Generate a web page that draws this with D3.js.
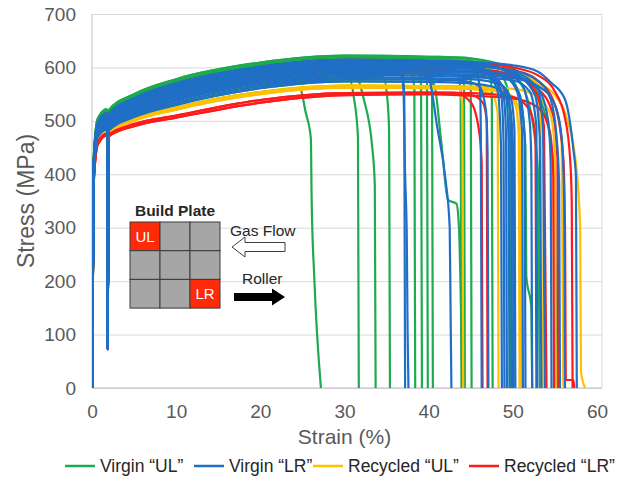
<!DOCTYPE html>
<html>
<head>
<meta charset="utf-8">
<script src="https://cdn.jsdelivr.net/npm/d3@7"></script>
<style>
  body { margin: 0; background: #fff; }
  svg { display: block; font-family: "Liberation Sans", Arial, sans-serif; }
  .tick text { fill: #595959; font-size: 19px; }
  .grid line { stroke: #d9d9d9; }
  .curve { fill: none; stroke-width: 2.2; stroke-linejoin: round; }
</style>
</head>
<body>
<div id="graph-container"></div>
<script>
// axis ticks
const xTicks = [0, 10, 20, 30, 40, 50, 60];
const yTicks = [0, 100, 200, 300, 400, 500, 600, 700];

// series (legend order)
const seriesNames = ['Virgin \u201cUL\u201d', 'Virgin \u201cLR\u201d', 'Recycled \u201cUL\u201d', 'Recycled \u201cLR\u201d'];
const seriesColors = ['#1daa50', '#1f6fc6', '#ffc000', '#ff1a1a'];

// strain (%) at which each specimen's stress is read before failure starts
const strainGrid = [0, 0.2, 0.7, 1.8, 1.85, 2.0, 5, 10, 20, 30, 40];

// each specimen: s = stress (MPa) on strainGrid, t = [strain, stress] points through failure
const virginUL = [
  { s: [0, 392, 468, 482, 75, 480, 503, 525, 554], t: [[24.7, 560], [25.4, 515], [26.0, 468], [26.1, 350], [26.4, 210], [27.2, 0]] },
  { s: [0, 396, 472, 486, 75, 484, 510, 534, 565, 578], t: [[30.6, 579], [31.1, 545], [31.6, 470], [31.7, 0]] },
  { s: [0, 400, 476, 490, 74, 488, 516, 541, 573, 586], t: [[31.2, 587], [32.3, 540], [33.3, 450], [33.6, 380], [33.7, 0]] },
  { s: [0, 398, 474, 488, 77, 486, 513, 538, 569, 582], t: [[34.6, 583], [35.1, 540], [35.3, 480], [35.4, 0]] },
  { s: [0, 402, 478, 493, 76, 491, 520, 545, 577, 590], t: [[37.9, 590], [38.3, 560], [38.4, 0]] },
  { s: [0, 408, 484, 499, 77, 497, 527, 553, 585, 598], t: [[38.8, 597], [39.1, 565], [39.2, 0]] },
  { s: [0, 412, 490, 505, 76, 503, 533, 561, 592, 605], t: [[39.5, 604], [39.8, 570], [39.9, 0]] },
  { s: [0, 425, 500, 517, 76, 515, 545, 572, 603, 616, 614], t: [[40.2, 613], [40.4, 575], [40.5, 0]] },
  { s: [0, 394, 470, 484, 76, 482, 507, 530, 561, 574, 573], t: [[40.6, 570], [41.5, 460], [42.3, 352], [43.3, 345], [43.6, 300], [44.0, 0]] },
  { s: [0, 405, 481, 496, 75, 494, 523, 549, 581, 594, 592], t: [[43.4, 590], [43.8, 555], [43.9, 0]] },
  { s: [0, 430, 505, 522, 78, 520, 550, 578, 609, 622, 620], t: [[44.6, 618], [45.0, 575], [45.1, 0]] },
  { s: [0, 425, 500, 517, 76, 515, 545, 572, 603, 616, 614], t: [[45, 612], [47.0, 600], [47.5, 560], [47.6, 0]] },
  { s: [0, 410, 487, 502, 75, 500, 530, 557, 589, 602, 600], t: [[45, 598], [48, 590], [50.0, 575], [51.0, 530], [51.5, 450], [51.6, 210], [52.2, 150], [52.3, 0]] },
  { s: [0, 430, 505, 522, 78, 520, 550, 578, 609, 622, 620], t: [[45, 617], [48, 608], [50, 597], [52, 575], [53.5, 530], [54.5, 460], [55.0, 380], [55.2, 0]] },
  { s: [0, 428, 503, 520, 77, 518, 548, 575, 606, 619, 617], t: [[45, 616], [48, 602], [50, 586], [51.5, 552], [52.5, 482], [53.0, 400], [53.2, 0]] },
  { s: [0, 425, 500, 517, 76, 515, 545, 572, 603, 616, 614], t: [[45, 611], [48, 596], [49.3, 565], [49.6, 520], [49.7, 0]] },
  { s: [0, 415, 492, 508, 74, 506, 536, 564, 595, 608, 606], t: [[43.8, 600], [44.2, 565], [44.3, 0]] }
];

const virginLR = [
  { s: [0, 400, 476, 490, 74, 488, 516, 541, 573, 586], t: [[36.7, 586], [37.0, 560], [37.2, 400], [37.4, 280], [37.5, 100], [37.6, 0]] },
  { s: [0, 410, 487, 502, 75, 500, 530, 557, 589, 602], t: [[36.8, 601], [37.1, 545], [37.2, 0]] },
  { s: [0, 405, 481, 496, 75, 494, 523, 549, 581, 594], t: [[39.5, 594], [40.2, 570], [41.0, 490], [42.0, 390], [42.5, 300], [42.6, 150], [42.7, 0]] },
  { s: [0, 415, 492, 508, 74, 506, 536, 564, 595, 608, 606], t: [[44, 604], [45.5, 596], [46.1, 560], [46.2, 470], [46.3, 0]] },
  { s: [0, 420, 497, 514, 75, 512, 542, 570, 601, 614, 612], t: [[44, 610], [46.5, 598], [48.2, 555], [48.6, 450], [48.7, 0]] },
  { s: [0, 418, 495, 511, 77, 509, 539, 567, 598, 611, 609], t: [[44, 607], [47, 592], [48.6, 550], [48.9, 460], [49.0, 0]] },
  { s: [0, 412, 490, 505, 76, 503, 533, 561, 592, 605, 603], t: [[44, 601], [47, 590], [48.9, 545], [49.2, 470], [49.3, 0]] },
  { s: [0, 408, 484, 499, 77, 497, 527, 553, 585, 598, 596], t: [[45, 592], [48, 580], [49.2, 545], [49.5, 460], [49.6, 0]] },
  { s: [0, 402, 478, 493, 76, 491, 520, 545, 577, 590, 588], t: [[45, 585], [48, 575], [49.5, 545], [49.8, 470], [49.9, 0]] },
  { s: [0, 398, 474, 488, 77, 486, 513, 538, 569, 582, 580], t: [[45, 578], [48.5, 568], [49.8, 540], [50.2, 480], [50.3, 0]] },
  { s: [0, 394, 470, 484, 76, 482, 507, 530, 561, 574, 573], t: [[45, 570], [48, 562], [49.6, 530], [50.0, 460], [50.1, 0]] },
  { s: [0, 420, 497, 514, 75, 512, 542, 570, 601, 614, 612], t: [[45, 610], [49, 594], [51.2, 565], [52.0, 500], [52.2, 420], [52.3, 0]] },
  { s: [0, 418, 495, 511, 77, 509, 539, 567, 598, 611, 609], t: [[45, 607], [50, 590], [52.6, 550], [53.2, 470], [53.4, 0]] },
  { s: [0, 415, 492, 508, 74, 506, 536, 564, 595, 608, 606], t: [[45, 604], [50, 592], [53.0, 560], [53.6, 480], [53.8, 0]] },
  { s: [0, 412, 490, 505, 76, 503, 533, 561, 592, 605, 603], t: [[45, 602], [50, 594], [53, 575], [54.5, 540], [55.2, 470], [55.5, 380], [55.6, 0]] },
  { s: [0, 420, 497, 514, 75, 512, 542, 570, 601, 614, 612], t: [[45, 610], [50, 604], [53, 592], [54.5, 572], [56.2, 540], [57.2, 445], [57.5, 395], [57.6, 0]] },
  { s: [0, 410, 487, 502, 75, 500, 530, 557, 589, 602, 600], t: [[45, 598], [49, 585], [50.8, 550], [51.4, 470], [51.5, 0]] },
  { s: [0, 408, 484, 499, 77, 497, 527, 553, 585, 598, 596], t: [[45, 594], [50, 585], [53, 560], [54.2, 500], [54.5, 420], [54.6, 0]] },
  { s: [0, 396, 472, 486, 75, 484, 510, 534, 565, 578, 577], t: [[44, 575], [46, 565], [46.8, 520], [47.0, 440], [47.1, 0]] },
  { s: [0, 402, 478, 493, 76, 491, 520, 545, 577, 590, 588], t: [[45, 586], [50, 580], [53, 565], [55, 530], [55.8, 470], [56.1, 350], [56.2, 0]] },
  { s: [0, 405, 481, 496, 75, 494, 523, 549, 581, 594, 592], t: [[45, 590], [49, 582], [50.5, 555], [51.1, 480], [51.2, 0]] },
  { s: [0, 400, 476, 490, 74, 488, 516, 541, 573, 586, 584], t: [[45, 582], [50, 576], [52, 555], [52.8, 490], [52.9, 0]] }
];

const recycledUL = [
  { s: [0, 392, 468, 482, 75, 480, 503, 525, 554, 566, 565], t: [[43.5, 565], [44.0, 530], [44.1, 0]] },
  { s: [0, 390, 465, 479, 77, 477, 500, 521, 550, 562, 561], t: [[45, 560], [47.6, 548], [48.2, 515], [48.3, 0]] },
  { s: [0, 392, 468, 482, 75, 480, 503, 525, 554, 566, 565], t: [[45, 564], [49, 555], [50.3, 530], [50.7, 470], [50.8, 0]] },
  { s: [0, 390, 465, 479, 77, 477, 500, 521, 550, 562, 561], t: [[45, 560], [49.5, 550], [50.8, 520], [51.0, 0]] },
  { s: [0, 408, 484, 499, 77, 497, 527, 553, 585, 598, 596], t: [[45, 595], [50, 585], [52.5, 560], [53.3, 500], [53.5, 0]] },
  { s: [0, 412, 490, 505, 76, 503, 533, 561, 592, 605, 603], t: [[45, 601], [50, 592], [53, 570], [55, 530], [55.8, 460], [56.0, 0]] },
  { s: [0, 402, 478, 493, 76, 491, 520, 545, 577, 590, 588], t: [[45, 587], [50, 582], [53, 570], [55, 548], [56.5, 500], [57.5, 420], [58.0, 300], [58.1, 30], [58.6, 0]] },
  { s: [0, 392, 468, 482, 75, 480, 503, 525, 554, 566, 565], t: [[45, 564], [50, 560], [53, 545], [54.5, 510], [55.0, 440], [55.1, 0]] }
];

const recycledLR = [
  { s: [0, 382, 456, 473, 72, 471, 490, 506, 534, 548, 550], t: [[45, 548], [46.4, 535], [46.9, 500], [47.0, 0]] },
  { s: [0, 385, 460, 476, 73, 474, 494, 510, 539, 552, 553], t: [[45, 552], [50, 545], [52.0, 520], [52.7, 470], [52.8, 0]] },
  { s: [0, 382, 456, 473, 72, 471, 490, 506, 534, 548, 550], t: [[45, 547], [50, 542], [53, 525], [54.4, 480], [54.8, 400], [54.9, 0]] },
  { s: [0, 418, 495, 511, 77, 509, 539, 567, 598, 611, 609], t: [[45, 605], [50, 595], [53, 575], [55, 530], [56.0, 430], [56.2, 300], [56.3, 15], [57.2, 15], [57.3, 0]] },
  { s: [0, 420, 497, 514, 75, 512, 542, 570, 601, 614, 612], t: [[45, 609], [50, 600], [53, 585], [55, 555], [56.2, 505], [56.8, 430], [57.0, 350], [57.1, 0]] },
  { s: [0, 410, 487, 502, 75, 500, 530, 557, 589, 602, 600], t: [[45, 598], [50, 586], [52.5, 560], [53.7, 490], [54.0, 0]] },
  { s: [0, 385, 460, 476, 73, 474, 494, 510, 539, 552, 553], t: [[43, 553], [45.0, 535], [46.0, 480], [46.3, 420], [46.4, 0]] },
  { s: [0, 405, 481, 496, 75, 494, 523, 549, 581, 594, 592], t: [[45, 591], [50, 582], [53, 560], [54.8, 510], [55.3, 430], [55.4, 0]] }
];

// inset build plate: which cells are marked
const plateCells = [['UL', '', ''], ['', '', ''], ['', '', 'LR']];

const W = 617, H = 482;
const plot = { left: 92, right: 597, frameRight: 602, top: 14, bottom: 388 };

const x = d3.scaleLinear().domain([0, 60]).range([plot.left, plot.right]);
const y = d3.scaleLinear().domain([0, 700]).range([plot.bottom, plot.top]);

const svg = d3.select('#graph-container')
              .append('svg')
              .attr('width', W)
              .attr('height', H);

svg.append('rect').attr('width', W).attr('height', H).attr('fill', '#fff');

// gridlines + y labels
const yAxis = svg.append('g')
                 .attr('class', 'grid')
                 .attr('transform', `translate(${plot.left},0)`)
                 .call(d3.axisLeft(y)
                         .tickValues(yTicks)
                         .tickSize(-(plot.frameRight - plot.left))
                         .tickPadding(16));
yAxis.select('.domain').remove();
yAxis.selectAll('.tick line').attr('stroke', '#d9d9d9');

// x labels
const xAxis = svg.append('g')
                 .attr('transform', `translate(0,${plot.bottom})`)
                 .call(d3.axisBottom(x)
                         .tickValues(xTicks)
                         .tickSize(0)
                         .tickPadding(17));
xAxis.select('.domain').remove();

// frame: right edge light, left + bottom axis darker
svg.append('line')
   .attr('x1', plot.frameRight).attr('x2', plot.frameRight)
   .attr('y1', plot.top).attr('y2', plot.bottom)
   .attr('stroke', '#d9d9d9');
svg.append('line')
   .attr('x1', plot.left).attr('x2', plot.left)
   .attr('y1', plot.top).attr('y2', plot.bottom)
   .attr('stroke', '#bfbfbf');
svg.append('line')
   .attr('x1', plot.left).attr('x2', plot.frameRight)
   .attr('y1', plot.bottom).attr('y2', plot.bottom)
   .attr('stroke', '#bfbfbf');

// axis titles
svg.append('text')
   .attr('transform', `translate(34,${(plot.top + plot.bottom) / 2}) rotate(-90)`)
   .attr('text-anchor', 'middle')
   .attr('fill', '#595959')
   .attr('font-size', 23)
   .text('Stress (MPa)');
svg.append('text')
   .attr('x', (plot.left + plot.right) / 2)
   .attr('y', 444)
   .attr('text-anchor', 'middle')
   .attr('fill', '#595959')
   .attr('font-size', 21)
   .text('Strain (%)');

// inset
function inset(g) {
  const cx = 130, cy = 222, cw = 30, ch = 28.7;
  g.append('text')
   .attr('x', cx + 1.5 * cw).attr('y', cy - 6)
   .attr('text-anchor', 'middle')
   .attr('font-size', 15.5).attr('font-weight', 'bold').attr('fill', '#262626')
   .text('Build Plate');
  plateCells.forEach(function(row, r) {
    row.forEach(function(label, c) {
      g.append('rect')
       .attr('x', cx + c * cw).attr('y', cy + r * ch)
       .attr('width', cw).attr('height', ch)
       .attr('fill', label ? '#ff2a0a' : '#a6a6a6')
       .attr('stroke', '#3a3a3a').attr('stroke-width', 1);
      if (label) {
        g.append('text')
         .attr('x', cx + c * cw + cw / 2).attr('y', cy + r * ch + ch / 2 + 5.5)
         .attr('text-anchor', 'middle')
         .attr('font-size', 15).attr('fill', '#fff')
         .text(label);
      }
    });
  });
  g.append('text')
   .attr('x', 230).attr('y', 236)
   .attr('font-size', 15.5).attr('fill', '#262626')
   .text('Gas Flow');
  // hollow arrow pointing left
  g.append('path')
   .attr('d', 'M232,247 L245,237 L245,242.5 L285,242.5 L285,251.5 L245,251.5 L245,257 Z')
   .attr('fill', '#fff').attr('stroke', '#404040').attr('stroke-width', 1);
  g.append('text')
   .attr('x', 242).attr('y', 284)
   .attr('font-size', 15.5).attr('fill', '#262626')
   .text('Roller');
  // solid arrow pointing right
  g.append('path')
   .attr('d', 'M234,293 L272,293 L272,288.5 L285,297 L272,305.5 L272,301 L234,301 Z')
   .attr('fill', '#000');
}
inset(svg.append('g'));

// curves
svg.append('clipPath').attr('id', 'plot-clip')
   .append('rect')
   .attr('x', plot.left).attr('y', plot.top - 2)
   .attr('width', plot.frameRight - plot.left).attr('height', plot.bottom - plot.top + 2);

const line = d3.line()
               .x(function(d) { return x(d[0]); })
               .y(function(d) { return y(d[1]); })
               .curve(d3.curveMonotoneX);

function points(spec) {
  return spec.s.map(function(v, i) { return [strainGrid[i], v]; }).concat(spec.t);
}

const curves = svg.append('g').attr('clip-path', 'url(#plot-clip)');
// draw order: green, yellow, red, blue on top
[[virginUL, 0], [recycledUL, 2], [recycledLR, 3], [virginLR, 1]].forEach(function(pair) {
  curves.append('g')
        .selectAll('path')
        .data(pair[0])
        .enter()
        .append('path')
        .attr('class', 'curve')
        .attr('stroke', seriesColors[pair[1]])
        .attr('d', function(d) { return line(points(d)); });
});

// legend
const legendX = [65, 194, 313, 469];
const legend = svg.append('g').attr('font-size', 17.5).attr('fill', '#262626');
seriesNames.forEach(function(name, i) {
  legend.append('line')
        .attr('x1', legendX[i]).attr('x2', legendX[i] + 30)
        .attr('y1', 466).attr('y2', 466)
        .attr('stroke', seriesColors[i]).attr('stroke-width', 2.5);
  legend.append('text')
        .attr('x', legendX[i] + 35).attr('y', 472)
        .text(name);
});
</script>
</body>
</html>
